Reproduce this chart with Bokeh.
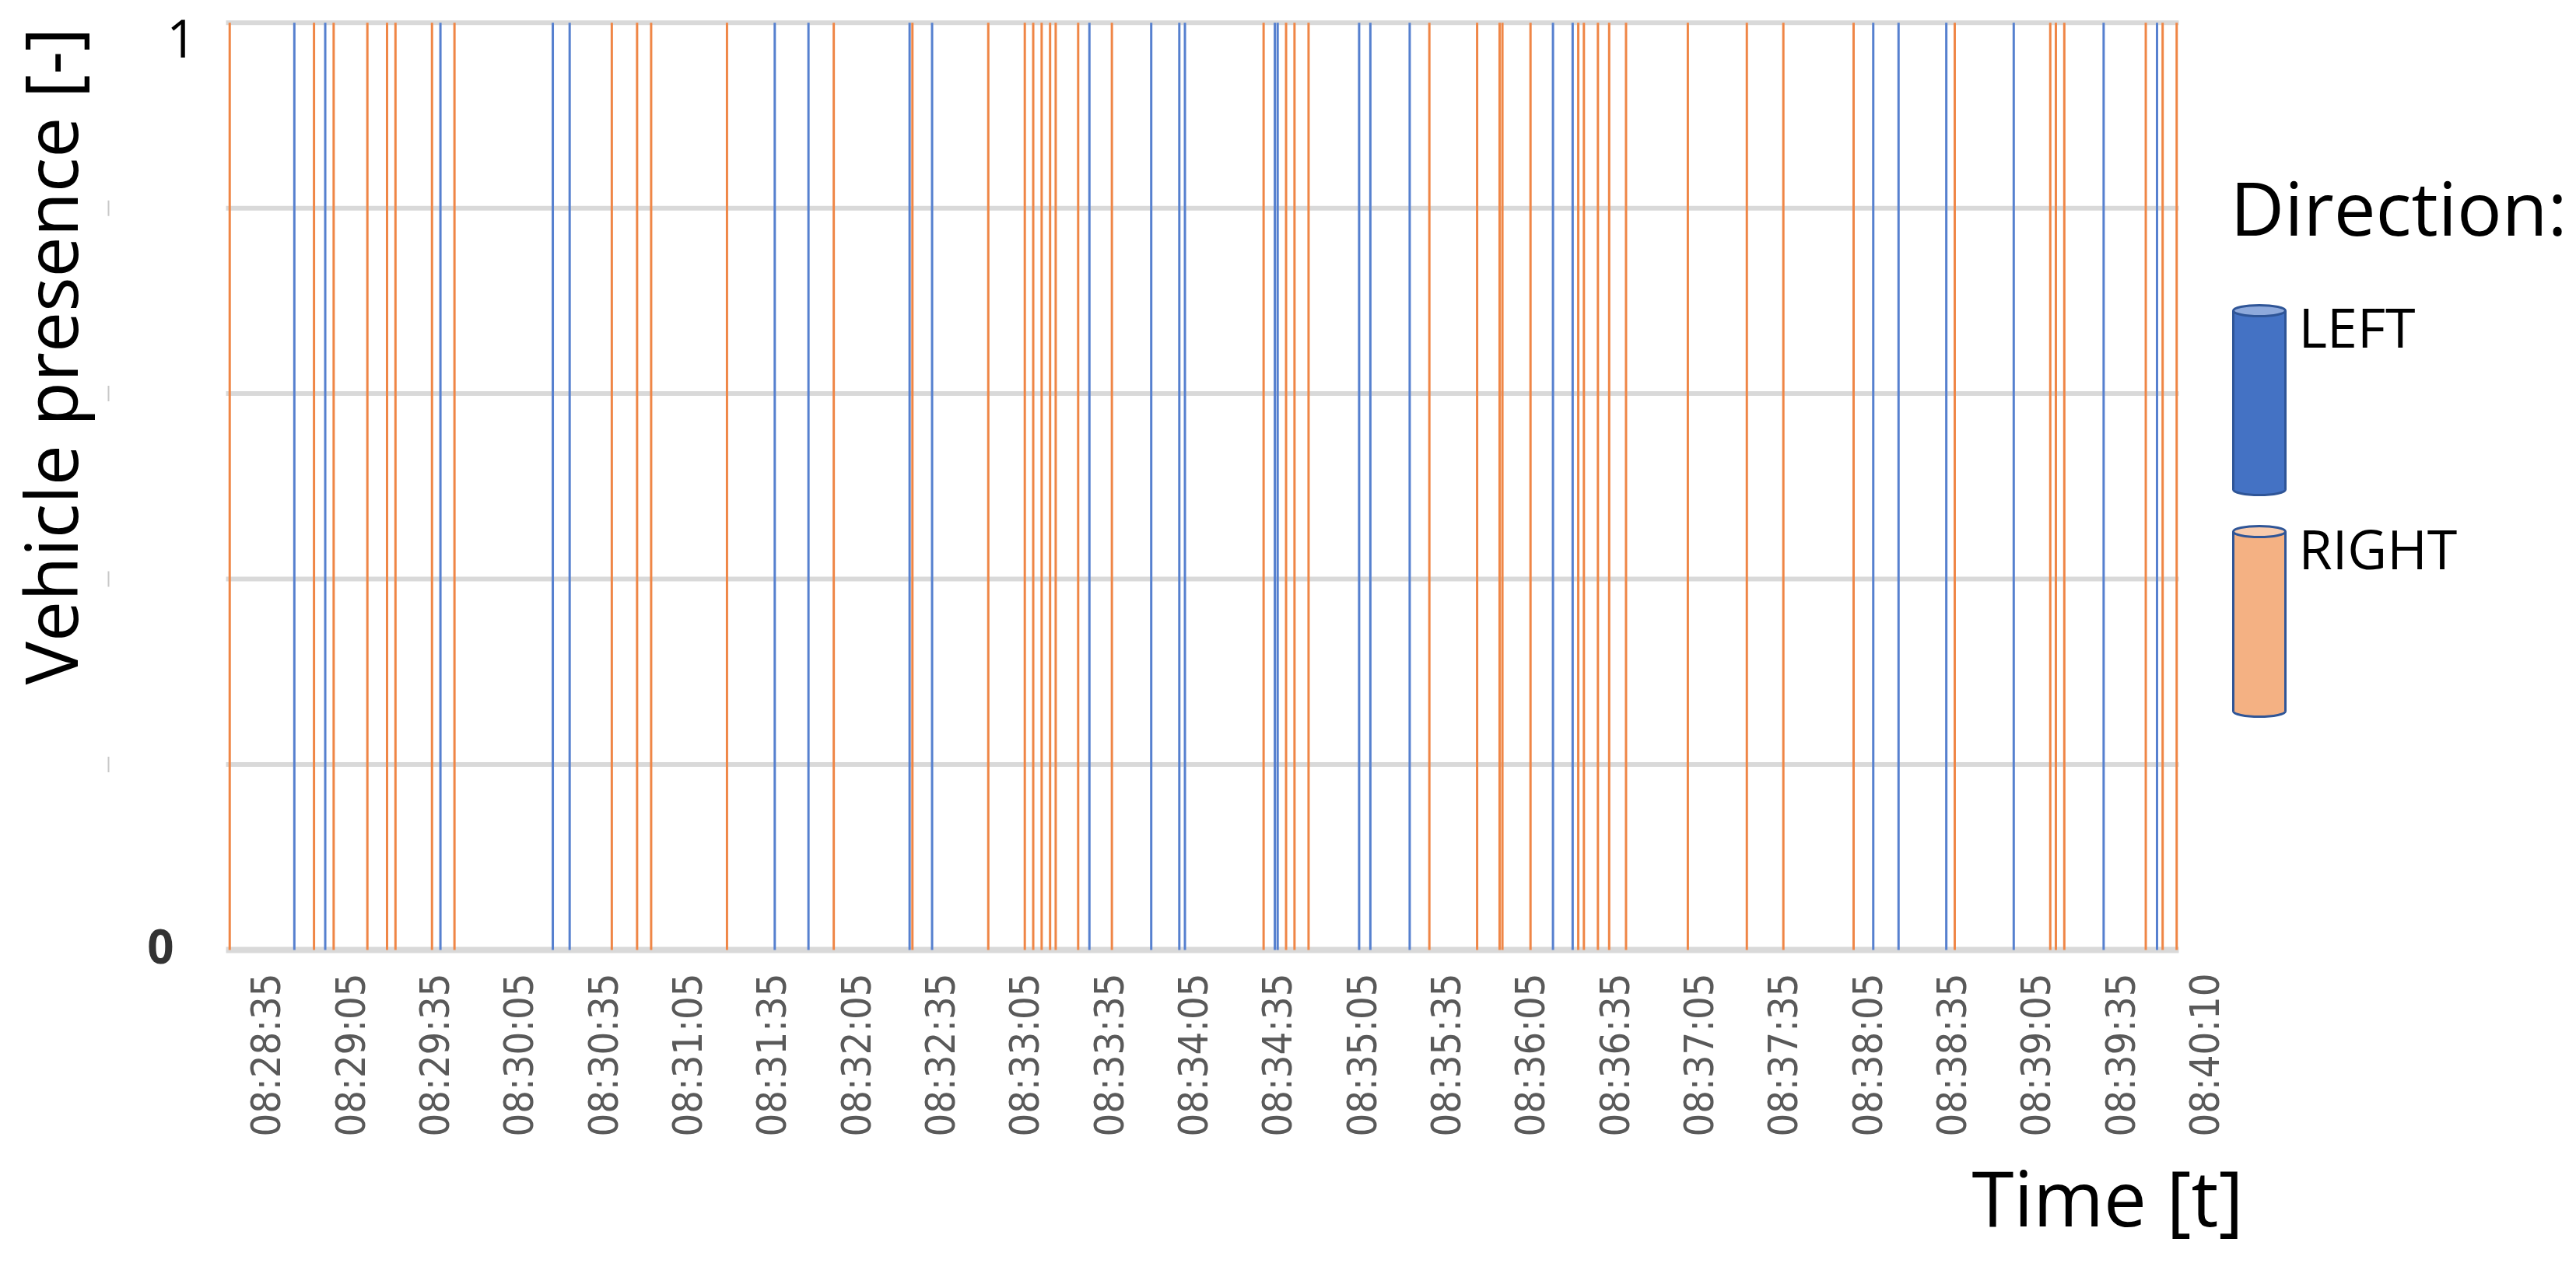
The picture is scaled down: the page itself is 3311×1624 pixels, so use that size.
from math import pi
from bokeh.plotting import figure
from bokeh.models import Range1d, FixedTicker, Label, ColumnDataSource
from bokeh.embed import file_html
from bokeh.resources import INLINE

# ---------------- data ----------------
# x = time position in seconds after 08:28:00 (category axis of the original chart)
tick_labels = ["08:28:35", "08:29:05", "08:29:35", "08:30:05", "08:30:35", "08:31:05",
               "08:31:35", "08:32:05", "08:32:35", "08:33:05", "08:33:35", "08:34:05",
               "08:34:35", "08:35:05", "08:35:35", "08:36:05", "08:36:35", "08:37:05",
               "08:37:35", "08:38:05", "08:38:35", "08:39:05", "08:39:35", "08:40:10"]
tick_positions = [35 + 30 * i for i in range(len(tick_labels))]

left_times = [45, 56, 97, 137, 143, 216, 228, 264, 272, 328, 350, 360, 362, 394, 395,
              424, 428, 442, 493, 500, 607, 616, 633, 657, 689, 708]
right_times = [22, 52, 59, 71, 78, 81, 94, 102, 158, 167, 172, 199, 237, 265, 292, 305,
               308, 311, 314, 316, 324, 336, 390, 398, 401, 406, 449, 466, 474, 475, 485,
               502, 504, 509, 513, 519, 541, 562, 575, 600, 636, 670, 672, 675, 704, 710, 715]
left_presence = [1] * len(left_times)
right_presence = [1] * len(right_times)
grid_values = [0, 0.2, 0.4, 0.6, 0.8, 1.0]
series_names = ["LEFT", "RIGHT"]

# ---------------- layout (frame covers the whole canvas) ----------------
W, H = 3311, 1620
PX_PER_S = 108.333 / 30.0
PX_PER_Y = 1192.3
X0_PX, Y0_PX = 341.7, 1221.0          # pixel of x=35 (08:28:35) and of y=0
x_start = 35 - X0_PX / PX_PER_S
x_end = x_start + W / PX_PER_S
y_end = Y0_PX / PX_PER_Y
y_start = y_end - H / PX_PER_Y


def X(px):  # canvas pixel -> data x (layout helper for annotations)
    return x_start + px / PX_PER_S


def Y(py):  # canvas pixel -> data y
    return (Y0_PX - py) / PX_PER_Y


plot_left, plot_right = X(290), X(2800)

p = figure(width=W, height=H, output_backend="svg", toolbar_location=None,
           x_range=Range1d(x_start, x_end), y_range=Range1d(y_start, y_end),
           y_axis_location=None, min_border=0)
p.outline_line_color = None
p.xgrid.visible = False
p.ygrid.visible = False
p.background_fill_color = "white"
p.border_fill_color = "white"

# gridlines
p.segment(x0=[plot_left] * len(grid_values), x1=[plot_right] * len(grid_values),
          y0=grid_values, y1=grid_values, line_color="#D9D9D9",
          line_width=[8 if g == 0 else 6 for g in grid_values])

# faint remnants of the removed intermediate y tick labels
inner = [g for g in grid_values if 0 < g < 1]
half = 10 / PX_PER_Y
p.segment(x0=[X(139)] * len(inner), x1=[X(139)] * len(inner),
          y0=[g - half for g in inner], y1=[g + half for g in inner],
          line_color="#C8C8C8", line_width=2)

OR = "#EF8646"
BLU = "#5680CF"
src_l = ColumnDataSource(dict(t=left_times, v=left_presence, z=[0] * len(left_times)))
src_r = ColumnDataSource(dict(t=right_times, v=right_presence, z=[0] * len(right_times)))
p.segment(x0="t", y0="z", x1="t", y1="v", source=src_l, line_color=BLU, line_width=3)
p.segment(x0="t", y0="z", x1="t", y1="v", source=src_r, line_color=OR, line_width=3)

# x axis drawn at y = 0
ax = p.xaxis[0]
ax.fixed_location = 0
ax.ticker = FixedTicker(ticks=tick_positions)
ax.major_label_overrides = {t: l for t, l in zip(tick_positions, tick_labels)}
ax.major_label_orientation = pi / 2
ax.axis_line_color = None
ax.major_tick_line_color = None
ax.minor_tick_line_color = None
ax.major_tick_out = 0
ax.major_tick_in = 0
ax.major_label_standoff = 30
ax.major_label_text_font = "DejaVu Sans Condensed"
ax.major_label_text_font_size = "52px"
ax.major_label_text_color = "#595959"

FONT = "Open Sans"
BSHIFT = 0.43  # empirical: rendered glyphs sit ~0.43em below the requested baseline


def label(text, px, py, size, align="left", angle=0.0, **kw):
    if angle == 0:
        py = py - BSHIFT * size
    else:
        px = px - BSHIFT * size
    p.add_layout(Label(x=X(px), y=Y(py), text=text, text_align=align, angle=angle,
                       text_baseline="alphabetic", text_font=FONT,
                       text_font_size=f"{size}px", **kw))


# y tick texts and axis titles
label("1", 233, 78, 67, align="center", text_color="black")
label("0", 206, 1242, 60, align="center", text_color="#333333", text_font_style="bold")
label("Vehicle presence [-]", 103, 35, 93, align="right", angle=pi / 2, text_color="black")
label("Time [t]", 2534, 1581, 98, text_color="black")

# legend
label("Direction:", 2866, 306, 96, text_color="black")

cyl_left, cyl_right = 2870, 2937
eh = 14 / PX_PER_Y
ew = (cyl_right - cyl_left) / PX_PER_S
cx = X((cyl_left + cyl_right) / 2)
legend_items = [(series_names[0], 392, 636, "#4472C4", "#8FAADC", 450),
                (series_names[1], 676, 921, "#F4B183", "#F8CBAD", 735)]
EDGE = "#2F5597"
for name, top, bot, body, lid, base in legend_items:
    ytop = Y(top) - eh / 2
    ybot = Y(bot) + eh / 2
    p.ellipse(x=[cx], y=[ybot], width=[ew], height=[eh], fill_color=body,
              line_color=EDGE, line_width=3)
    p.quad(left=[X(cyl_left)], right=[X(cyl_right)], top=[ytop], bottom=[ybot],
           fill_color=body, line_color=None)
    p.segment(x0=[X(cyl_left), X(cyl_right)], x1=[X(cyl_left), X(cyl_right)],
              y0=[ytop, ytop], y1=[ybot, ybot], line_color=EDGE, line_width=3)
    p.ellipse(x=[cx], y=[ytop], width=[ew], height=[eh], fill_color=lid,
              line_color=EDGE, line_width=3)
    label(name, 2954, base, 70, text_color="black")

open("out.html", "w").write(file_html(p, INLINE))
